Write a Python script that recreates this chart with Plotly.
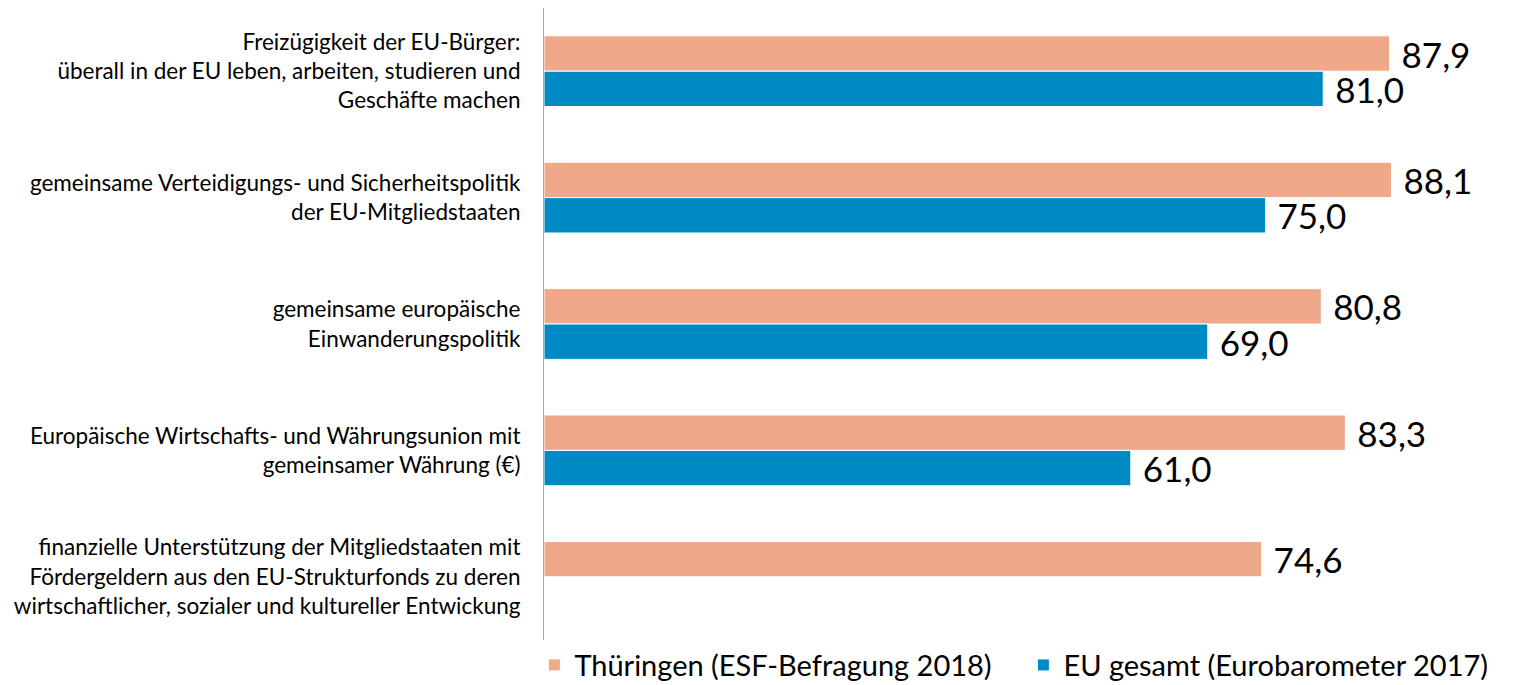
import plotly.graph_objects as go

categories = [
    "Freizügigkeit der EU-Bürger:<br>überall in der EU leben, arbeiten, studieren und<br>Geschäfte machen",
    "gemeinsame Verteidigungs- und Sicherheitspolitik<br>der EU-Mitgliedstaaten",
    "gemeinsame europäische<br>Einwanderungspolitik",
    "Europäische Wirtschafts- und Währungsunion mit<br>gemeinsamer Währung (€)",
    "finanzielle Unterstützung der Mitgliedstaaten mit<br>Fördergeldern aus den EU-Strukturfonds zu deren<br>wirtschaftlicher, sozialer und kultureller Entwickung",
]
thueringen = [87.9, 88.1, 80.8, 83.3, 74.6]
eu_gesamt = [81.0, 75.0, 69.0, 61.0, None]
series_names = ["Thüringen (ESF-Befragung 2018)", "EU gesamt (Eurobarometer 2017)"]
colors = ["#F0A88A", "#008AC4"]

def fmt(vals):
    return [" " + f"{v:.1f}".replace(".", ",") if v is not None else "" for v in vals]

FONT = "Lato"
fig = go.Figure()
for name, vals, col in zip(series_names, [thueringen, eu_gesamt], colors):
    fig.add_trace(go.Bar(
        y=categories, x=vals, name=name, orientation="h",
        marker=dict(color=col, line=dict(color="white", width=1)),
        text=fmt(vals), textposition="outside", cliponaxis=False,
        constraintext="none",
        textfont=dict(family=FONT, size=35, color="black"),
    ))

fig.update_layout(
    width=1520, height=685,
    paper_bgcolor="white", plot_bgcolor="white",
    barmode="group", bargap=0.44, bargroupgap=0.0,
    margin=dict(l=536, r=22, t=0, b=53, autoexpand=False),
    font=dict(family=FONT, size=22.5, color="black"),
    showlegend=True,
    legend=dict(orientation="h", x=-0.01, xanchor="left", y=-0.08, yanchor="bottom",
                font=dict(family=FONT, size=29, color="black"),
                itemwidth=30,
                entrywidth=444, entrywidthmode="pixels", traceorder="normal"),
)
fig.update_xaxes(range=[0, 100], visible=False, showgrid=False, zeroline=False)
fig.update_yaxes(autorange="reversed", showline=True, linecolor="#A6A6A6", linewidth=1,
                 ticks="", showgrid=False, ticklabelstandoff=18, automargin=False,
                 tickfont=dict(family=FONT, size=22.5, color="black"))

fig.write_html("out.html")
